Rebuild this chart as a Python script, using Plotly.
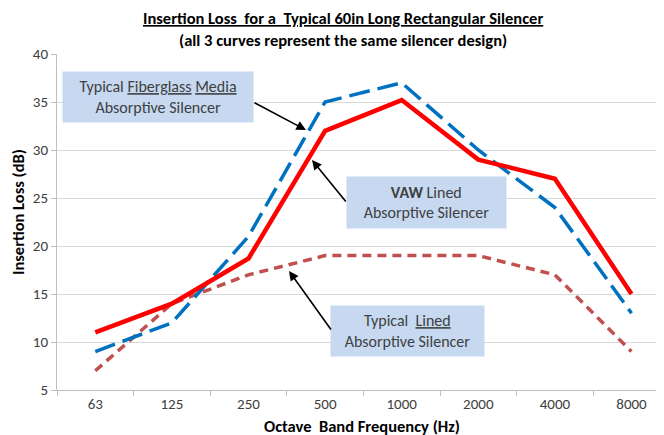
import plotly.graph_objects as go

categories = ["63", "125", "250", "500", "1000", "2000", "4000", "8000"]
vaw_lined = [11, 14, 18.7, 32, 35.2, 29, 27, 15]
fiberglass_media = [9, 12, 21, 35, 37, 30, 24, 13]
typical_lined = [7, 14, 17, 19, 19, 19, 17, 9]
y_ticks = [5, 10, 15, 20, 25, 30, 35, 40]

FONT = "Carlito, Calibri, 'Liberation Sans Narrow', 'Open Sans', sans-serif"

fig = go.Figure()
fig.add_trace(go.Scatter(x=categories, y=typical_lined, mode="lines",
                         line=dict(color="#c0504d", width=3.5, dash="9px,6px"),
                         name="Typical Lined"))
fig.add_trace(go.Scatter(x=categories, y=fiberglass_media, mode="lines",
                         line=dict(color="#0070c0", width=3.5, dash="21px,8px"),
                         name="Typical Fiberglass Media"))
fig.add_trace(go.Scatter(x=categories, y=vaw_lined, mode="lines",
                         line=dict(color="#ff0000", width=4.5),
                         name="VAW Lined"))

# page body adds an 8px offset; layout below is in on-screen pixels
OFF = 8
W, H = 664, 435
SL, ST, SR, SB = 57, 54, 664, 390   # plot area on screen
L, T = SL - OFF, ST - OFF
R = W - (SR - OFF)
B = H - (SB - OFF)
pw, ph = SR - SL, SB - ST


def px(x):
    return (x - SL) / pw


def py(y):
    return (SB - y) / ph


box_fill = "#c6d9f1"
txt_col = "#404040"
boxes = [
    ("Typical <u>Fiberglass</u> <u>Media</u><br>Absorptive Silencer", 158, 97, 190, 50),
    ("<b>VAW</b> Lined<br>Absorptive Silencer", 426.5, 202.5, 159, 51),
    ("Typical  <u>Lined</u><br>Absorptive Silencer", 407.5, 331, 153, 50),
]
annotations = []
for text, cx, cy, w, h in boxes:
    annotations.append(dict(text=text, xref="paper", yref="paper", x=px(cx), y=py(cy),
                            xanchor="center", yanchor="middle", showarrow=False,
                            width=w, height=h, bgcolor=box_fill, borderpad=0,
                            font=dict(family=FONT, size=16, color=txt_col), align="center"))

arrows = [((306, 130), (253, 102)), ((312, 160), (347, 203)), ((289, 271), (332, 331))]
for (hx, hy), (tx, ty) in arrows:
    annotations.append(dict(text="", xref="paper", yref="paper", x=px(hx), y=py(hy),
                            ax=tx - hx, ay=ty - hy, showarrow=True, arrowhead=2,
                            arrowsize=1.2, arrowwidth=1.6, arrowcolor="black"))

title_lines = [
    ("<b><u>Insertion Loss  for a  Typical 60in Long Rectangular Silencer</u></b>", 343, 18, 0),
    ("<b>(all 3 curves represent the same silencer design)</b>", 343, 40, 0),
    ("<b>Octave  Band Frequency (Hz)</b>", 362, 426, 0),
    ("<b>Insertion Loss (dB)</b>", 18, 212, -90),
]
for text, cx, cy, ang in title_lines:
    annotations.append(dict(text=text, xref="paper", yref="paper", x=px(cx), y=py(cy),
                            xanchor="center", yanchor="middle", showarrow=False,
                            textangle=ang,
                            font=dict(family=FONT, size=16.5, color="black")))

fig.update_layout(
    width=W, height=H,
    margin=dict(l=L, r=R, t=T, b=B, autoexpand=False),
    paper_bgcolor="white", plot_bgcolor="white",
    showlegend=False,
    font=dict(family=FONT, size=15, color="#595959"),
    xaxis=dict(type="category", range=[-0.5, -0.5 + pw / 76.6],
               showgrid=False, showline=True, linecolor="#bfbfbf", linewidth=1,
               ticks="outside", tickson="boundaries", ticklen=5, tickcolor="#bfbfbf",
               tickfont=dict(family=FONT, size=15, color="#404040")),
    yaxis=dict(range=[5, 40], tickvals=y_ticks, showgrid=True, gridcolor="#d9d9d9",
               gridwidth=1, showline=True, linecolor="#bfbfbf", linewidth=1,
               ticks="outside", ticklen=5, tickcolor="#bfbfbf", zeroline=False,
               tickfont=dict(family=FONT, size=15, color="#404040")),
    annotations=annotations,
)

fig.write_html("out.html")
